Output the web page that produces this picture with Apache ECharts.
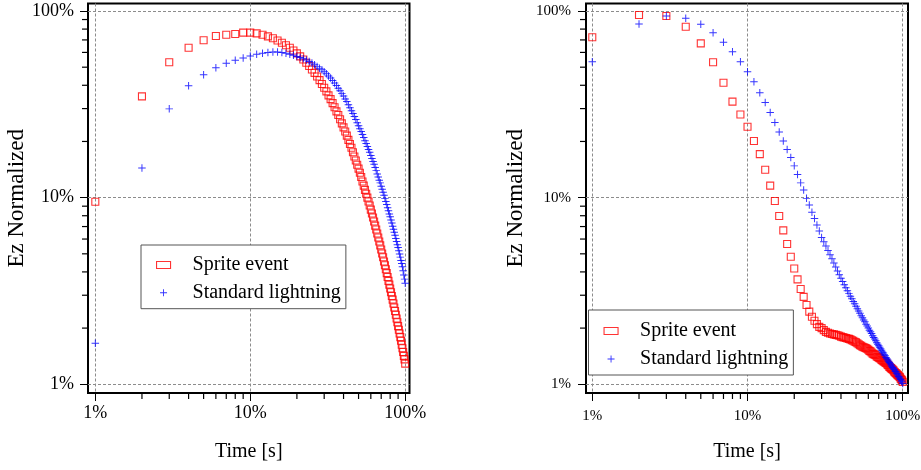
<!DOCTYPE html>
<html><head><meta charset="utf-8">
<script src="https://cdn.jsdelivr.net/npm/echarts@6/dist/echarts.min.js"></script>
<style>html,body{margin:0;padding:0;background:#fff}#c{width:921px;height:470px}</style>
</head><body><div id="c"></div>
<script>
// Time [%]
const time = [1,2,3,4,5,6,7,8,9,10,11,12,13,14,15,16,17,18,19,20,21,22,23,24,25,26,27,28,29,30,31,32,33,34,35,36,37,38,39,40,41,42,43,44,45,46,47,48,49,50,51,52,53,54,55,56,57,58,59,60,61,62,63,64,65,66,67,68,69,70,71,72,73,74,75,76,77,78,79,80,81,82,83,84,85,86,87,88,89,90,91,92,93,94,95,96,97,98,99,100];
// Left panel, Ez normalized [%]
const leftSprite = [9.51,34.9,53.1,63.5,69.7,73.5,74.6,75.3,76.6,76.6,75.9,74.6,73.1,71.4,69.5,67.6,65.6,63.5,61.4,59.3,57.1,55.0,52.8,50.7,48.6,46.6,44.6,42.6,40.6,38.8,37.1,35.3,33.7,32.1,30.5,29.0,27.7,26.3,25.0,23.8,22.6,21.5,20.4,19.4,18.5,17.5,16.6,15.8,15.0,14.3,13.6,12.9,12.2,11.6,11.0,10.5,10.0,9.53,9.08,8.63,8.22,7.82,7.45,7.08,6.75,6.43,6.11,5.82,5.55,5.27,5.02,4.79,4.55,4.34,4.13,3.94,3.76,3.58,3.42,3.26,3.11,2.97,2.84,2.71,2.58,2.47,2.36,2.25,2.15,2.05,1.96,1.87,1.79,1.71,1.63,1.56,1.49,1.42,1.36,1.29];
const leftLightning = [1.66,14.4,29.9,39.8,45.6,49.7,52.5,54.5,56.0,57.4,58.6,59.4,60.0,60.3,60.3,60.0,59.4,58.7,57.9,57.1,56.4,55.5,54.6,53.6,52.6,51.5,50.5,49.4,48.4,47.3,46.1,44.9,43.7,42.4,41.1,39.9,38.6,37.4,36.2,35.0,33.8,32.7,31.5,30.3,29.2,28.2,27.2,26.2,25.2,24.3,23.4,22.6,21.8,21.0,20.2,19.5,18.8,18.1,17.5,16.8,16.2,15.6,15.1,14.5,14.0,13.4,12.9,12.4,12.0,11.5,11.1,10.7,10.3,9.91,9.53,9.18,8.83,8.51,8.18,7.89,7.59,7.31,7.03,6.78,6.52,6.28,6.04,5.82,5.60,5.40,5.19,4.99,4.80,4.61,4.44,4.26,4.06,3.85,3.66,3.48];
// Right panel, Ez normalized [%]
const rightSprite = [72.3,95.2,94.0,82.4,67.1,53.1,41.3,32.7,27.9,24.0,20.1,17.1,14.1,11.6,9.59,7.97,6.68,5.64,4.82,4.17,3.65,3.24,2.94,2.66,2.45,2.30,2.19,2.10,2.03,2.00,1.95,1.91,1.89,1.87,1.86,1.85,1.84,1.83,1.82,1.80,1.79,1.78,1.77,1.76,1.75,1.74,1.72,1.71,1.69,1.68,1.66,1.64,1.62,1.61,1.59,1.58,1.57,1.56,1.55,1.53,1.51,1.50,1.48,1.46,1.45,1.44,1.43,1.41,1.40,1.39,1.38,1.37,1.35,1.34,1.33,1.32,1.31,1.30,1.29,1.27,1.26,1.24,1.23,1.22,1.21,1.20,1.19,1.17,1.16,1.15,1.14,1.13,1.12,1.11,1.10,1.09,1.07,1.06,1.05,1.03];
const rightLightning = [53.5,85.2,94.0,91.4,84.9,76.5,68.0,60.5,53.5,47.3,41.8,36.5,32.3,28.6,25.3,22.5,20.1,18.1,16.4,14.8,13.3,12.0,11.0,9.91,9.12,8.34,7.74,7.13,6.62,6.12,5.81,5.50,5.21,4.95,4.70,4.47,4.25,4.05,3.86,3.70,3.55,3.41,3.29,3.17,3.06,2.96,2.87,2.78,2.70,2.62,2.54,2.47,2.40,2.33,2.27,2.21,2.16,2.10,2.05,2.00,1.95,1.91,1.87,1.82,1.78,1.75,1.71,1.67,1.64,1.61,1.58,1.55,1.52,1.49,1.47,1.44,1.42,1.39,1.37,1.35,1.33,1.31,1.29,1.27,1.25,1.23,1.22,1.20,1.18,1.17,1.15,1.14,1.12,1.10,1.09,1.07,1.06,1.04,1.03,1.01];
const majorTicks = [1, 10, 100];
const minorTicks = [2,3,4,5,6,7,8,9,20,30,40,50,60,70,80,90];
const seriesNames = ['Sprite event', 'Standard lightning'];
const xTitle = 'Time [s]';
const yTitle = 'Ez Normalized';

const FONT = 'Liberation Serif';
const PLUS = 'path://M0,4.35H10V5.65H0Z M4.35,0H5.65V10H4.35Z';
const pct = v => Math.round(v) + '%';
const pair = arr => time.map((t, i) => [t, arr[i]]);

function mainAxis(dim, gi, min, max, fs, margin) {
  const a = {
    type: 'log', logBase: 10, gridIndex: gi, min: min, max: max,
    position: dim === 'x' ? 'bottom' : 'left',
    name: dim === 'x' ? xTitle : yTitle,
    nameLocation: 'middle',
    nameGap: dim === 'x' ? 49 : 59,
    nameTextStyle: { fontFamily: FONT, fontSize: dim === 'x' ? 20 : 23, color: '#000' },
    axisLine: { show: false },
    axisTick: { show: true, customValues: majorTicks, length: 8, lineStyle: { color: '#000', width: 1 } },
    axisLabel: { show: true, customValues: majorTicks, formatter: pct, fontFamily: FONT, fontSize: fs, color: '#000', margin: margin },
    splitLine: { show: true, lineStyle: { color: '#8c8c8c', type: [3, 2], width: 1 } },
    minorTick: { show: false }, minorSplitLine: { show: false }
  };
  if (dim === 'y') a.nameRotate = 90;
  return a;
}

const Y_MIN = 0.898, Y_MAX = 109.7;
const L_MIN = 0.897, L_MAX = 106.6;
const R_MIN = 0.911, R_MAX = 108.1;

function scatter(name, data, xi, yi, isPlus) {
  return {
    type: 'scatter', name: name, xAxisIndex: xi, yAxisIndex: yi, data: data,
    symbol: isPlus ? PLUS : 'rect', symbolSize: isPlus ? 7.5 : 7,
    itemStyle: isPlus ? { color: '#0000ff' } : { color: 'rgba(0,0,0,0)', borderColor: '#ff0000', borderWidth: 1.1 },
    emphasis: { disabled: true }, z: isPlus ? 3 : 2
  };
}
function makeLegend(left, top, pad, gap) {
  return {
    show: true, orient: 'vertical', left: left, top: top, data: seriesNames,
    selectedMode: false, itemWidth: 14, itemHeight: 7, itemGap: gap,
    padding: pad, borderColor: '#555', borderWidth: 1, backgroundColor: '#fff',
    itemStyle: { borderWidth: 'inherit' },
    textStyle: { fontFamily: FONT, fontSize: 20, color: '#000', padding: [0, 0, 0, 17] }
  };
}

const chart = echarts.init(document.getElementById('c'), null, { renderer: 'canvas' });
chart.setOption({
  animation: false,
  backgroundColor: '#fff',
  grid: [
    { left: 88, top: 3.5, width: 321.5, height: 389.5, show: true, borderColor: '#000', borderWidth: 2, backgroundColor: 'transparent', outerBoundsMode: 'none', containLabel: false },
    { left: 586, top: 3.5, width: 322, height: 389.5, show: true, borderColor: '#000', borderWidth: 2, backgroundColor: 'transparent', outerBoundsMode: 'none', containLabel: false }
  ],
  xAxis: [
    mainAxis('x', 0, L_MIN, L_MAX, 18, 11),
    mainAxis('x', 1, R_MIN, R_MAX, 15, 16)
  ],
  yAxis: [
    mainAxis('y', 0, Y_MIN, Y_MAX, 18, 14),
    mainAxis('y', 1, Y_MIN, Y_MAX, 15, 15)
  ],
  legend: [
    makeLegend(141, 245, [10, 5, 6, 15], 7.7),
    makeLegend(588.5, 310, [11, 5, 6, 15], 8)
  ],
  series: [
    scatter(seriesNames[0], pair(leftSprite), 0, 0, false),
    scatter(seriesNames[1], pair(leftLightning), 0, 0, true),
    scatter(seriesNames[0], pair(rightSprite), 1, 1, false),
    scatter(seriesNames[1], pair(rightLightning), 1, 1, true)
  ]
});

// Minor (2..9 per decade) ticks, positioned through the axes' own scales
const minorMarks = [];
const xMins = [L_MIN, R_MIN];
for (let gi = 0; gi < 2; gi++) {
  const gx = chart.convertToPixel({ xAxisIndex: gi }, xMins[gi]);
  const gy = chart.convertToPixel({ yAxisIndex: gi }, Y_MIN);
  minorTicks.forEach(v => {
    const px = chart.convertToPixel({ xAxisIndex: gi }, v);
    const py = chart.convertToPixel({ yAxisIndex: gi }, v);
    minorMarks.push({ type: 'line',
      shape: { x1: px, y1: gy + 1, x2: px, y2: gy + 6 },
      style: { stroke: '#000', lineWidth: 1.2 } });
    minorMarks.push({ type: 'line',
      shape: { x1: gx - 6, y1: py, x2: gx - 1, y2: py },
      style: { stroke: '#000', lineWidth: 1.2 } });
  });
}
chart.setOption({ graphic: minorMarks });
</script>
</body></html>
